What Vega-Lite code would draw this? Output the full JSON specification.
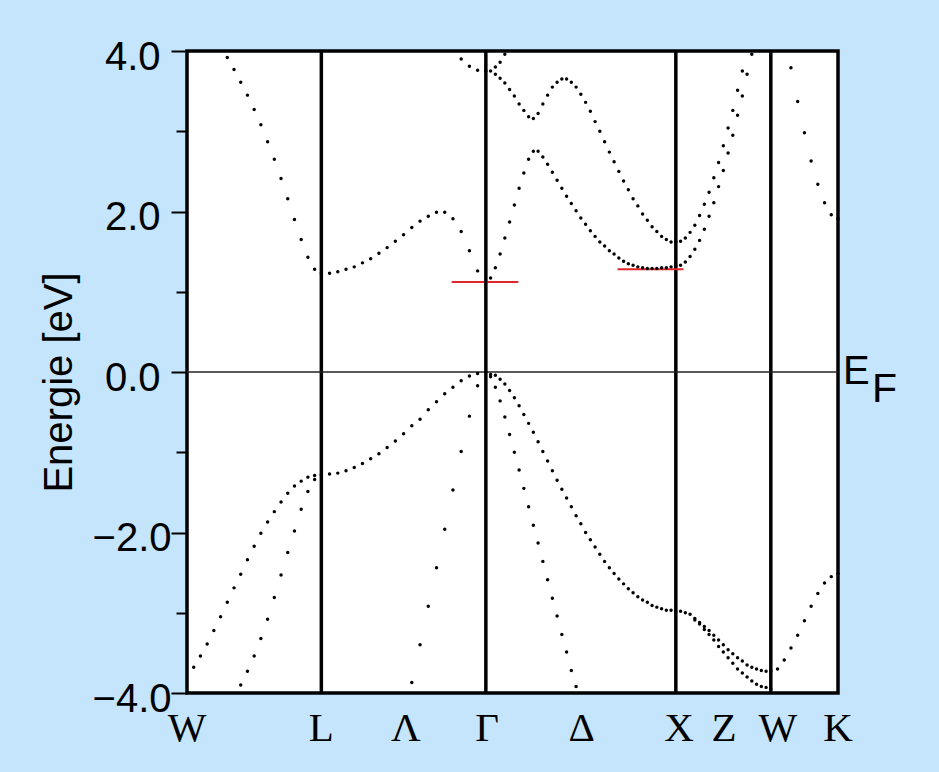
{
  "$schema": "https://vega.github.io/schema/vega-lite/v6.json",
  "width": 651,
  "height": 642,
  "autosize": {"type": "none"},
  "padding": {"left": 187, "top": 51, "right": 101, "bottom": 79},
  "background": "#c4e5fb",
  "config": {"view": {"stroke": "black", "strokeWidth": 3.5, "fill": "white"}},
  "datasets": {
    "sym": [
      {"k": 0.7071, "point": "L"},
      {"k": 1.5731, "point": "Γ"},
      {"k": 2.5731, "point": "X"},
      {"k": 3.0731, "point": "W"}
    ],
    "path": [
      {"k": 0, "name": "W"},
      {"k": 0.7071, "name": "L"},
      {"k": 1.152, "name": "Λ"},
      {"k": 1.579, "name": "Γ"},
      {"k": 2.078, "name": "Δ"},
      {"k": 2.59, "name": "X"},
      {"k": 2.827, "name": "Z"},
      {"k": 3.11, "name": "W"},
      {"k": 3.4267, "name": "K"}
    ],
    "gap": [
      {"k": 1.393, "k2": 1.744, "E": 1.12},
      {"k": 2.266, "k2": 2.613, "E": 1.28}
    ],
    "bands": [
      {"k":0.2121,"E":3.92},{"k":0.2475,"E":3.77},{"k":0.2828,"E":3.61},{"k":0.3182,"E":3.45},{"k":0.3536,"E":3.27},
      {"k":0.3889,"E":3.08},{"k":0.4243,"E":2.87},{"k":0.4596,"E":2.65},{"k":0.4950,"E":2.41},{"k":0.5303,"E":2.16},
      {"k":0.5657,"E":1.90},{"k":0.6010,"E":1.65},{"k":0.6364,"E":1.43},{"k":0.6718,"E":1.28},{"k":0.7071,"E":1.23},

      {"k":0.0354,"E":-3.68},{"k":0.0707,"E":-3.54},{"k":0.1061,"E":-3.39},{"k":0.1414,"E":-3.22},{"k":0.1768,"E":-3.05},
      {"k":0.2121,"E":-2.87},{"k":0.2475,"E":-2.69},{"k":0.2828,"E":-2.52},{"k":0.3182,"E":-2.34},{"k":0.3536,"E":-2.17},
      {"k":0.3889,"E":-2.01},{"k":0.4243,"E":-1.87},{"k":0.4596,"E":-1.74},{"k":0.4950,"E":-1.62},{"k":0.5303,"E":-1.51},
      {"k":0.5657,"E":-1.42},{"k":0.6010,"E":-1.36},{"k":0.6364,"E":-1.31},{"k":0.6718,"E":-1.29},{"k":0.7071,"E":-1.28},

      {"k":0.2828,"E":-3.90},{"k":0.3182,"E":-3.73},{"k":0.3536,"E":-3.54},{"k":0.3889,"E":-3.32},{"k":0.4243,"E":-3.08},
      {"k":0.4596,"E":-2.81},{"k":0.4950,"E":-2.53},{"k":0.5303,"E":-2.25},{"k":0.5657,"E":-1.98},{"k":0.6010,"E":-1.71},
      {"k":0.6364,"E":-1.49},{"k":0.6718,"E":-1.34},

      {"k":0.7504,"E":-1.27},{"k":0.7937,"E":-1.26},{"k":0.8370,"E":-1.23},{"k":0.8803,"E":-1.19},{"k":0.9236,"E":-1.14},
      {"k":0.9669,"E":-1.08},{"k":1.0102,"E":-1.02},{"k":1.0535,"E":-0.94},{"k":1.0968,"E":-0.86},{"k":1.1401,"E":-0.77},
      {"k":1.1834,"E":-0.67},{"k":1.2267,"E":-0.59},{"k":1.2700,"E":-0.47},{"k":1.3133,"E":-0.37},{"k":1.3566,"E":-0.27},
      {"k":1.3999,"E":-0.19},{"k":1.4432,"E":-0.11},{"k":1.4865,"E":-0.05},{"k":1.5298,"E":-0.02},{"k":1.5731,"E":0},

      {"k":1.1834,"E":-3.87},{"k":1.2267,"E":-3.40},{"k":1.2700,"E":-2.92},{"k":1.3133,"E":-2.44},{"k":1.3566,"E":-1.96},
      {"k":1.3999,"E":-1.47},{"k":1.4432,"E":-0.99},{"k":1.4865,"E":-0.55},{"k":1.5298,"E":-0.17},

      {"k":0.7504,"E":1.23},{"k":0.7937,"E":1.25},{"k":0.8370,"E":1.28},{"k":0.8803,"E":1.31},{"k":0.9236,"E":1.36},
      {"k":0.9669,"E":1.41},{"k":1.0102,"E":1.48},{"k":1.0535,"E":1.55},{"k":1.0968,"E":1.63},{"k":1.1401,"E":1.71},
      {"k":1.1834,"E":1.80},{"k":1.2267,"E":1.88},{"k":1.2700,"E":1.94},{"k":1.3133,"E":1.99},{"k":1.3566,"E":1.99},
      {"k":1.3999,"E":1.91},{"k":1.4432,"E":1.75},{"k":1.4865,"E":1.51},{"k":1.5298,"E":1.26},{"k":1.5731,"E":1.12},

      {"k":1.4432,"E":3.90},{"k":1.4865,"E":3.81},{"k":1.5298,"E":3.76},{"k":1.5731,"E":3.75},

      {"k":1.5981,"E":1.17},{"k":1.6231,"E":1.30},{"k":1.6481,"E":1.47},{"k":1.6731,"E":1.67},{"k":1.6981,"E":1.87},
      {"k":1.7231,"E":2.08},{"k":1.7481,"E":2.29},{"k":1.7731,"E":2.48},{"k":1.7981,"E":2.65},{"k":1.8231,"E":2.75},
      {"k":1.8481,"E":2.75},{"k":1.8731,"E":2.68},{"k":1.8981,"E":2.59},{"k":1.9231,"E":2.49},{"k":1.9481,"E":2.39},
      {"k":1.9731,"E":2.29},{"k":1.9981,"E":2.19},{"k":2.0231,"E":2.10},{"k":2.0481,"E":2.01},{"k":2.0731,"E":1.92},
      {"k":2.0981,"E":1.84},{"k":2.1231,"E":1.76},{"k":2.1481,"E":1.69},{"k":2.1731,"E":1.62},{"k":2.1981,"E":1.57},
      {"k":2.2231,"E":1.51},{"k":2.2481,"E":1.47},{"k":2.2731,"E":1.42},{"k":2.2981,"E":1.38},{"k":2.3231,"E":1.35},
      {"k":2.3481,"E":1.33},{"k":2.3731,"E":1.31},{"k":2.3981,"E":1.30},{"k":2.4231,"E":1.29},{"k":2.4481,"E":1.29},
      {"k":2.4731,"E":1.29},{"k":2.4981,"E":1.30},{"k":2.5231,"E":1.30},{"k":2.5481,"E":1.31},{"k":2.5731,"E":1.32},

      {"k":1.5981,"E":3.75},{"k":1.6231,"E":3.71},{"k":1.6481,"E":3.66},{"k":1.6731,"E":3.60},{"k":1.6981,"E":3.52},
      {"k":1.7231,"E":3.44},{"k":1.7481,"E":3.34},{"k":1.7731,"E":3.26},{"k":1.7981,"E":3.18},{"k":1.8231,"E":3.16},
      {"k":1.8481,"E":3.22},{"k":1.8731,"E":3.34},{"k":1.8981,"E":3.45},{"k":1.9231,"E":3.55},{"k":1.9481,"E":3.61},
      {"k":1.9731,"E":3.65},{"k":1.9981,"E":3.65},{"k":2.0231,"E":3.61},{"k":2.0481,"E":3.55},{"k":2.0731,"E":3.46},
      {"k":2.0981,"E":3.36},{"k":2.1231,"E":3.25},{"k":2.1481,"E":3.12},{"k":2.1731,"E":3.00},{"k":2.1981,"E":2.87},
      {"k":2.2231,"E":2.74},{"k":2.2481,"E":2.62},{"k":2.2731,"E":2.50},{"k":2.2981,"E":2.38},{"k":2.3231,"E":2.27},
      {"k":2.3481,"E":2.16},{"k":2.3731,"E":2.07},{"k":2.3981,"E":1.97},{"k":2.4231,"E":1.89},{"k":2.4481,"E":1.81},
      {"k":2.4731,"E":1.75},{"k":2.4981,"E":1.69},{"k":2.5231,"E":1.65},{"k":2.5481,"E":1.62},{"k":2.5731,"E":1.62},

      {"k":1.6231,"E":3.80},{"k":1.6481,"E":3.86},{"k":1.6731,"E":3.96},

      {"k":1.5981,"E":-0.03},{"k":1.6231,"E":-0.04},{"k":1.6481,"E":-0.09},{"k":1.6731,"E":-0.15},{"k":1.6981,"E":-0.23},
      {"k":1.7231,"E":-0.32},{"k":1.7481,"E":-0.42},{"k":1.7731,"E":-0.53},{"k":1.7981,"E":-0.64},{"k":1.8231,"E":-0.75},
      {"k":1.8481,"E":-0.87},{"k":1.8731,"E":-0.99},{"k":1.8981,"E":-1.11},{"k":1.9231,"E":-1.23},{"k":1.9481,"E":-1.35},
      {"k":1.9731,"E":-1.46},{"k":1.9981,"E":-1.57},{"k":2.0231,"E":-1.68},{"k":2.0481,"E":-1.79},{"k":2.0731,"E":-1.89},
      {"k":2.0981,"E":-2.00},{"k":2.1231,"E":-2.09},{"k":2.1481,"E":-2.18},{"k":2.1731,"E":-2.27},{"k":2.1981,"E":-2.36},
      {"k":2.2231,"E":-2.44},{"k":2.2481,"E":-2.51},{"k":2.2731,"E":-2.58},{"k":2.2981,"E":-2.64},{"k":2.3231,"E":-2.70},
      {"k":2.3481,"E":-2.75},{"k":2.3731,"E":-2.80},{"k":2.3981,"E":-2.84},{"k":2.4231,"E":-2.87},{"k":2.4481,"E":-2.91},
      {"k":2.4731,"E":-2.93},{"k":2.4981,"E":-2.95},{"k":2.5231,"E":-2.97},{"k":2.5481,"E":-2.97},{"k":2.5731,"E":-2.98},

      {"k":1.5981,"E":-0.06},{"k":1.6231,"E":-0.19},{"k":1.6481,"E":-0.36},{"k":1.6731,"E":-0.56},{"k":1.6981,"E":-0.78},
      {"k":1.7231,"E":-1.00},{"k":1.7481,"E":-1.22},{"k":1.7731,"E":-1.45},{"k":1.7981,"E":-1.68},{"k":1.8231,"E":-1.91},
      {"k":1.8481,"E":-2.13},{"k":1.8731,"E":-2.36},{"k":1.8981,"E":-2.59},{"k":1.9231,"E":-2.82},{"k":1.9481,"E":-3.04},
      {"k":1.9731,"E":-3.27},{"k":1.9981,"E":-3.49},{"k":2.0231,"E":-3.72},{"k":2.0481,"E":-3.92},

      {"k":2.5981,"E":1.63},{"k":2.6231,"E":1.67},{"k":2.6481,"E":1.74},{"k":2.6731,"E":1.83},{"k":2.6981,"E":1.95},
      {"k":2.7231,"E":2.09},{"k":2.7481,"E":2.24},{"k":2.7731,"E":2.42},{"k":2.7981,"E":2.61},{"k":2.8231,"E":2.82},
      {"k":2.8481,"E":3.04},{"k":2.8731,"E":3.26},{"k":2.8981,"E":3.51},{"k":2.9231,"E":3.75},

      {"k":2.5981,"E":1.33},{"k":2.6231,"E":1.37},{"k":2.6481,"E":1.44},{"k":2.6731,"E":1.53},{"k":2.6981,"E":1.64},
      {"k":2.7231,"E":1.78},{"k":2.7481,"E":1.94},{"k":2.7731,"E":2.11},{"k":2.7981,"E":2.31},{"k":2.8231,"E":2.51},
      {"k":2.8481,"E":2.73},{"k":2.8731,"E":2.95},{"k":2.8981,"E":3.20},{"k":2.9231,"E":3.44},{"k":2.9481,"E":3.71},
      {"k":2.9731,"E":3.96},

      {"k":2.5981,"E":-2.98},{"k":2.6231,"E":-3.00},{"k":2.6481,"E":-3.02},{"k":2.6731,"E":-3.07},{"k":2.6981,"E":-3.12},
      {"k":2.7231,"E":-3.17},{"k":2.7481,"E":-3.22},{"k":2.7731,"E":-3.28},{"k":2.7981,"E":-3.34},{"k":2.8231,"E":-3.40},
      {"k":2.8481,"E":-3.46},{"k":2.8731,"E":-3.51},{"k":2.8981,"E":-3.56},{"k":2.9231,"E":-3.60},{"k":2.9481,"E":-3.65},
      {"k":2.9731,"E":-3.68},{"k":2.9981,"E":-3.70},{"k":3.0231,"E":-3.72},{"k":3.0481,"E":-3.73},{"k":3.0731,"E":-3.73},

      {"k":2.6731,"E":-3.09},{"k":2.6981,"E":-3.14},{"k":2.7231,"E":-3.21},{"k":2.7481,"E":-3.27},{"k":2.7731,"E":-3.34},
      {"k":2.7981,"E":-3.42},{"k":2.8231,"E":-3.49},{"k":2.8481,"E":-3.56},{"k":2.8731,"E":-3.63},{"k":2.8981,"E":-3.70},
      {"k":2.9231,"E":-3.75},{"k":2.9481,"E":-3.80},{"k":2.9731,"E":-3.85},{"k":2.9981,"E":-3.89},{"k":3.0231,"E":-3.92},
      {"k":3.0481,"E":-3.93},{"k":3.0731,"E":-3.95},

      {"k":3.1085,"E":-3.70},{"k":3.1438,"E":-3.59},{"k":3.1792,"E":-3.44},{"k":3.2145,"E":-3.28},{"k":3.2499,"E":-3.10},
      {"k":3.2852,"E":-2.92},{"k":3.3206,"E":-2.76},{"k":3.3559,"E":-2.63},{"k":3.3913,"E":-2.55},{"k":3.4267,"E":-2.51},

      {"k":3.1792,"E":3.79},{"k":3.2145,"E":3.37},{"k":3.2499,"E":2.98},{"k":3.2852,"E":2.63},{"k":3.3206,"E":2.34},
      {"k":3.3559,"E":2.11},{"k":3.3913,"E":1.96},{"k":3.4267,"E":1.91}
    ]
  },
  "resolve": {"axis": {"y": "independent"}},
  "layer": [
    {
      "data": {"name": "sym"},
      "mark": {"type": "rule", "color": "black", "strokeWidth": 3.5},
      "encoding": {
        "x": {"field": "k", "type": "quantitative", "axis": null, "scale": {"domain": [0, 3.4267], "nice": false, "zero": false}}
      }
    },
    {
      "data": {"values": [{}]},
      "mark": {"type": "rule", "color": "#222222", "strokeWidth": 1.5},
      "encoding": {
        "y": {
          "datum": 0,
          "type": "quantitative",
          "axis": {
            "orient": "left",
            "values": [-3, -1, 1, 3],
            "labels": false,
            "domain": false,
            "grid": false,
            "tickSize": 11,
            "tickWidth": 2,
            "tickColor": "black",
            "title": null
          }
        }
      }
    },
    {
      "data": {"name": "gap"},
      "mark": {"type": "rule", "color": "#e0262a", "strokeWidth": 2},
      "encoding": {
        "x": {"field": "k", "type": "quantitative", "axis": null},
        "x2": {"field": "k2"},
        "y": {"field": "E", "type": "quantitative", "axis": null}
      }
    },
    {
      "data": {"name": "bands"},
      "mark": {"type": "circle", "size": 12, "color": "black", "opacity": 1},
      "encoding": {
        "x": {"field": "k", "type": "quantitative", "axis": null, "scale": {"domain": [0, 3.4267], "nice": false, "zero": false}},
        "y": {
          "field": "E",
          "type": "quantitative",
          "scale": {"domain": [-4, 4], "nice": false},
          "axis": {
            "orient": "left",
            "values": [-4, -2, 0, 2, 4],
            "format": ".1f",
            "domain": false,
            "grid": false,
            "tickSize": 16,
            "tickWidth": 2,
            "tickColor": "black",
            "labelFont": "Liberation Sans",
            "labelFontSize": 40,
            "labelColor": "black",
            "labelPadding": {"condition": {"test": "datum.value < 0", "value": 0}, "value": 11},
            "labelOffset": 6,
            "labelFlush": false,
            "labelOverlap": false,
            "labelBound": false,
            "title": "Energie [eV]",
            "titleFont": "Liberation Sans",
            "titleFontSize": 40,
            "titleFontWeight": "normal",
            "titleColor": "black",
            "titleAngle": -90,
            "titleAlign": "center",
            "titleBaseline": "alphabetic",
            "titleX": -115.6,
            "titleY": 331
          }
        }
      }
    },
    {
      "data": {"name": "path"},
      "mark": {"type": "text", "font": "Liberation Serif", "fontSize": 41, "color": "black", "align": "center", "baseline": "alphabetic", "dy": 48},
      "encoding": {
        "x": {"field": "k", "type": "quantitative", "axis": null},
        "y": {"datum": -4, "type": "quantitative", "axis": null},
        "text": {"field": "name"}
      }
    },
    {
      "data": {"values": [{}]},
      "mark": {"type": "text", "text": "E", "font": "Liberation Sans", "fontSize": 40, "color": "black", "align": "left", "baseline": "alphabetic", "dx": 5, "dy": 12},
      "encoding": {
        "x": {"datum": 3.4267, "type": "quantitative", "axis": null},
        "y": {"datum": 0, "type": "quantitative", "axis": null}
      }
    },
    {
      "data": {"values": [{}]},
      "mark": {"type": "text", "text": "F", "font": "Liberation Sans", "fontSize": 41, "color": "black", "align": "left", "baseline": "alphabetic", "dx": 34, "dy": 30},
      "encoding": {
        "x": {"datum": 3.4267, "type": "quantitative", "axis": null},
        "y": {"datum": 0, "type": "quantitative", "axis": null}
      }
    }
  ]
}
